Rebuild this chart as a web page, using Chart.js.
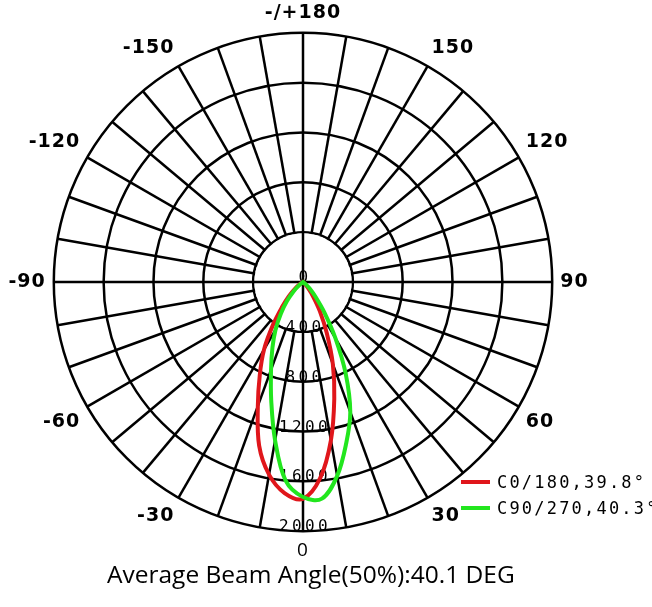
<!DOCTYPE html>
<html>
<head>
<meta charset="utf-8">
<script src="https://cdn.jsdelivr.net/npm/chart.js@4.4.1/dist/chart.umd.min.js"></script>
<style>
  body { margin: 0; background: #fff; }
  #wrap { position: relative; width: 652px; height: 607px; }
  #legend { position: absolute; left: 461px; top: 469px; font-family: "DejaVu Sans Mono"; font-size: 17px; letter-spacing: 2.2px; color: #000; }
  .item { display: flex; align-items: center; height: 26px; }
  .swatch { width: 29px; height: 4px; margin-right: 7px; }
  #caption { position: absolute; left: 107px; top: 557px; font-family: "Open Sans"; font-size: 24.5px; color: #000; white-space: nowrap; }
</style>
</head>
<body>
<div id="wrap">
  <canvas id="polarChart"></canvas>
  <div id="legend"></div>
  <div id="caption">Average Beam Angle(50%):40.1 DEG</div>
</div>
<script>
// sudut label (0 di bawah, 90 di kanan, -90 di kiri), tiap 5 derajat searah jarum jam dari atas
const angleLabels = Array.from({ length: 72 }, (_, i) => 180 - 5 * i);

// intensitas (cd) yang dibaca dari gambar, hanya di sekitar berkas
const beamAngles = [-60, -55, -50, -45, -40, -35, -30, -25, -20, -15, -10, -5, 0, 5, 10, 15, 20, 25, 30, 35, 40, 45, 50, 55, 60];
const c0Values  = [0, 30, 80, 160, 260, 420, 625, 820, 1060, 1360, 1570, 1700, 1740, 1580, 1290, 970, 700, 450, 270, 140, 60, 20, 0, 0, 0];
const c90Values = [0, 0, 40, 110, 200, 310, 440, 580, 750, 985, 1290, 1600, 1725, 1745, 1580, 1340, 1110, 810, 520, 300, 160, 80, 30, 0, 0];

const ringTicks = [0, 400, 800, 1200, 1600, 2000];
const seriesNames = ['C0/180,39.8°', 'C90/270,40.3°'];
const seriesColors = ['#e0161b', '#22e61e'];

// isi nilai untuk tiap label sudut (di luar berkas = 0)
function toRadar(values) {
    return angleLabels.map(a => {
        const k = beamAngles.indexOf(a);
        return k >= 0 ? values[k] : 0;
    });
}

// lingkaran dalam (400) tanpa jari-jari, kecuali sumbu utama; label cincin di sumbu bawah
const polarFrame = {
    id: 'polarFrame',
    beforeDraw(chart) {
        chart.ctx.letterSpacing = '1px';
    },
    beforeDatasetsDraw(chart) {
        const s = chart.scales.r;
        const ctx = chart.ctx;
        const r0 = s.getDistanceFromCenterForValue(400);
        ctx.save();
        ctx.fillStyle = '#fff';
        ctx.beginPath();
        ctx.arc(s.xCenter, s.yCenter, r0 - 1.2, 0, 2 * Math.PI);
        ctx.fill();
        ctx.strokeStyle = '#000';
        ctx.lineWidth = 2.5;
        [0, 18, 36, 54].forEach(i => {
            const p = s.getPointPosition(i, r0);
            ctx.beginPath();
            ctx.moveTo(s.xCenter, s.yCenter);
            ctx.lineTo(p.x, p.y);
            ctx.stroke();
        });
        ctx.font = '16px "DejaVu Sans Mono"';
        ctx.letterSpacing = '3.4px';
        ctx.fillStyle = '#000';
        ctx.textAlign = 'center';
        ctx.textBaseline = 'alphabetic';
        ringTicks.forEach(v => {
            const y = s.yCenter + s.getDistanceFromCenterForValue(v);
            ctx.fillText(String(v), s.xCenter + 2, y);
        });
        ctx.restore();
    }
};

const chart = new Chart(document.getElementById('polarChart'), {
    type: 'radar',
    data: {
        labels: angleLabels.map(a => a === 180 ? '-/+180' : String(a)),
        datasets: [
            {
                label: seriesNames[0],
                data: toRadar(c0Values),
                borderColor: seriesColors[0],
                borderWidth: 4,
                fill: false,
                pointRadius: 0,
                tension: 0.35,
                order: 1
            },
            {
                label: seriesNames[1],
                data: toRadar(c90Values),
                borderColor: seriesColors[1],
                borderWidth: 4,
                fill: false,
                pointRadius: 0,
                tension: 0.35,
                order: 0
            }
        ]
    },
    options: {
        responsive: true,
        maintainAspectRatio: false,
        animation: false,
        layout: { padding: { top: 2, bottom: 45, left: 0, right: 53 } },
        plugins: { legend: { display: false }, tooltip: { enabled: false } },
        scales: {
            r: {
                min: 0,
                max: 2000,
                startAngle: 0,
                ticks: { display: false, stepSize: 400 },
                grid: { circular: true, color: '#000', lineWidth: 2.5 },
                angleLines: {
                    color: ctx => ctx.index % 2 === 0 ? '#000' : 'rgba(0,0,0,0)',
                    lineWidth: 2.5
                },
                pointLabels: {
                    padding: 8,
                    color: '#000',
                    font: ctx => ctx.index === 36
                        ? { family: 'Open Sans', size: 19 }
                        : { family: 'DejaVu Sans', size: 19, weight: 'bold' },
                    callback: (label, i) => i % 6 === 0 ? label : ''
                }
            }
        }
    },
    plugins: [polarFrame]
});

// legenda
const legend = document.getElementById('legend');
seriesNames.forEach((name, i) => {
    const item = document.createElement('div');
    item.className = 'item';
    item.innerHTML = `<span class="swatch" style="background:${seriesColors[i]}"></span><span>${name}</span>`;
    legend.appendChild(item);
});
</script>
</body>
</html>
